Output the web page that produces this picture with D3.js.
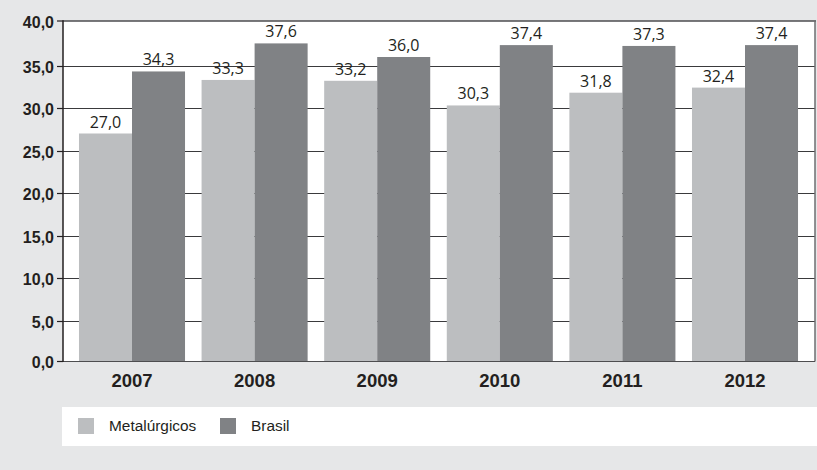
<!DOCTYPE html>
<html>
<head>
<meta charset="utf-8">
<script src="https://cdn.jsdelivr.net/npm/d3@7/dist/d3.min.js"></script>
<style>
  html, body { margin: 0; padding: 0; background: #e6e7e8; }
  svg { display: block; }
</style>
</head>
<body>
<svg id="chart" width="817" height="470"></svg>
<script>
const years = ["2007", "2008", "2009", "2010", "2011", "2012"];
const seriesNames = ["Metalúrgicos", "Brasil"];
const metalurgicos = [27.0, 33.3, 33.2, 30.3, 31.8, 32.4];
const brasil = [34.3, 37.6, 36.0, 37.4, 37.3, 37.4];
const yTicks = [0, 5, 10, 15, 20, 25, 30, 35, 40];
const colors = ["#bcbec0", "#808285"];

const svg = d3.select("#chart");
const W = 817, H = 470;
const plotL = 63, plotR = 815, plotT = 21;

svg.append("rect").attr("width", W).attr("height", H).attr("fill", "#e6e7e8");

const y = d3.scaleLinear().domain([0, 40]).range([363, 23]);
const x0 = d3.scaleBand().domain(years).range([70.7, 806.3]).paddingInner(0.135).paddingOuter(0.0675);
const x1 = d3.scaleBand().domain(seriesNames).range([0, x0.bandwidth()]);

const bottomY = 361.5;

// plot background
svg.append("rect").attr("x", plotL).attr("y", plotT).attr("width", plotR - plotL).attr("height", bottomY - plotT)
  .attr("fill", "#ffffff");

// gridlines
svg.append("g").selectAll("line").data(yTicks.filter(t => t > 0 && t < 40)).join("line")
  .attr("x1", plotL).attr("x2", plotR)
  .attr("y1", d => Math.round(y(d)) + 0.5).attr("y2", d => Math.round(y(d)) + 0.5)
  .attr("stroke", "#3a3a3c").attr("stroke-width", 1.2);

// bars
const data = years.map((yr, i) => ({ year: yr, values: [metalurgicos[i], brasil[i]] }));
const groups = svg.append("g").selectAll("g").data(data).join("g")
  .attr("transform", d => `translate(${x0(d.year)},0)`);
groups.selectAll("rect").data(d => d.values.map((v, j) => ({ v, s: seriesNames[j], j }))).join("rect")
  .attr("x", d => x1(d.s))
  .attr("y", d => y(d.v))
  .attr("width", x1.bandwidth())
  .attr("height", d => 362 - y(d.v))
  .attr("fill", d => colors[d.j]);

// value labels
const fmt = v => d3.format(".1f")(v).replace(".", ",");
groups.selectAll("text").data(d => d.values.map((v, j) => ({ v, s: seriesNames[j] }))).join("text")
  .attr("x", d => x1(d.s) + x1.bandwidth() / 2)
  .attr("y", d => y(d.v) - 6)
  .attr("text-anchor", "middle")
  .attr("font-family", "'Open Sans', sans-serif")
  .attr("font-size", 16)
  .attr("fill", "#231f20")
  .text(d => fmt(d.v));

// frame: top, left, bottom, right
svg.append("line").attr("x1", plotL).attr("x2", plotR + 1).attr("y1", plotT).attr("y2", plotT)
  .attr("stroke", "#4d4d4f").attr("stroke-width", 1.5);
svg.append("line").attr("x1", plotR).attr("x2", plotR).attr("y1", plotT).attr("y2", bottomY)
  .attr("stroke", "#6d6e71").attr("stroke-width", 1.5);
svg.append("line").attr("x1", plotL).attr("x2", plotR).attr("y1", bottomY).attr("y2", bottomY)
  .attr("stroke", "#4d4d4f").attr("stroke-width", 1.2);
svg.append("line").attr("x1", plotL).attr("x2", plotL).attr("y1", plotT - 0.7).attr("y2", bottomY + 0.6)
  .attr("stroke", "#231f20").attr("stroke-width", 1.5);

// y ticks & labels
const tickPos = t => t === 0 ? bottomY : (t === 40 ? plotT : Math.round(y(t)) + 0.5);
svg.append("g").selectAll("line").data(yTicks).join("line")
  .attr("x1", 57).attr("x2", plotL)
  .attr("y1", tickPos).attr("y2", tickPos)
  .attr("stroke", "#231f20").attr("stroke-width", 1.2);
svg.append("g").selectAll("text").data(yTicks).join("text")
  .attr("x", 54)
  .attr("y", d => tickPos(d) + 1)
  .attr("dy", "0.35em")
  .attr("text-anchor", "end")
  .attr("font-family", "'Liberation Sans Narrow', sans-serif")
  .attr("font-weight", "bold")
  .attr("font-size", 16)
  .attr("fill", "#231f20")
  .text(d => fmt(d));

// x labels
svg.append("g").selectAll("text").data(years).join("text")
  .attr("x", d => x0(d) + x0.bandwidth() / 2)
  .attr("y", 387)
  .attr("text-anchor", "middle")
  .attr("font-family", "'Liberation Sans Narrow', sans-serif")
  .attr("font-weight", "bold")
  .attr("font-size", 18.5)
  .attr("fill", "#231f20")
  .text(d => d);

// legend
svg.append("rect").attr("x", 62).attr("y", 407).attr("width", W - 62).attr("height", 39).attr("fill", "#ffffff");
const legX = [78, 220];
const leg = svg.append("g").selectAll("g").data(seriesNames).join("g")
  .attr("transform", (d, i) => `translate(${legX[i]},418)`);
leg.append("rect").attr("width", 16).attr("height", 16).attr("fill", (d, i) => colors[i]);
leg.append("text").attr("x", 31).attr("y", 13)
  .attr("font-family", "'Liberation Sans Narrow', sans-serif")
  .attr("font-size", 15.4)
  .attr("fill", "#231f20")
  .text(d => d);
</script>
</body>
</html>
